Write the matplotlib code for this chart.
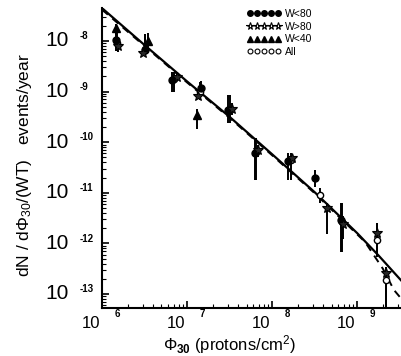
import numpy as np
import matplotlib
matplotlib.use("Agg")
import matplotlib.pyplot as plt
from matplotlib.ticker import LogLocator, NullFormatter
from matplotlib.lines import Line2D

plt.rcParams['font.family'] = ['Liberation Sans', 'DejaVu Sans']
plt.rcParams['mathtext.fontset'] = 'custom'
plt.rcParams['mathtext.rm'] = 'Liberation Sans'
plt.rcParams['mathtext.it'] = 'Liberation Sans:italic'
plt.rcParams['mathtext.bf'] = 'Liberation Sans:bold'

# W<80 (filled circles)
x_w80 = [1.47e6, 3.2e6, 6.7e6, 1.46e7, 3.0e7, 6.2e7, 1.55e8, 3.2e8, 6.5e8]
y_w80 = [1.05e-8, 6.6e-9, 1.7e-9, 1.2e-9, 4.4e-10, 6.2e-11, 4.3e-11, 2.0e-11, 2.9e-12]
lo_w80 = [6.2e-9, 5.3e-9, 1.0e-9, 8.0e-10, 2.4e-10, 1.8e-11, 1.8e-11, 1.3e-11, 6.7e-13]
hi_w80 = [1.6e-8, 1.4e-8, 2.4e-9, 1.6e-9, 8.5e-10, 1.2e-10, 6.2e-11, 2.8e-11, 6.3e-12]

# W>80 (stars)
x_g80 = [1.55e6, 3.0e6, 7.6e6, 1.35e7, 3.4e7, 6.9e7, 1.7e8, 4.35e8, 6.8e8, 1.7e9, 2.2e9]
y_g80 = [8.0e-9, 5.8e-9, 1.9e-9, 8.3e-10, 4.6e-10, 7.0e-11, 4.8e-11, 4.9e-12, 2.4e-12, 1.6e-12, 2.6e-13]
lo_g80 = [6.0e-9, 5.0e-9, 1.6e-9, 7.0e-10, 3.5e-10, 5.0e-11, 4.0e-11, 1.5e-12, 1.2e-12, 5.4e-13, 5.3e-14]
hi_g80 = [1.1e-8, 7.0e-9, 2.3e-9, 1.0e-9, 6.0e-10, 9.0e-11, 5.6e-11, 6.3e-12, 3.5e-12, 2.5e-12, 3.4e-13]

# W<40 (triangles)
x_w40 = [1.45e6, 3.5e6, 1.3e7]
y_w40 = [1.8e-8, 1.0e-8, 3.5e-10]
lo_w40 = [1.3e-8, 7.0e-9, 1.8e-10]
hi_w40 = [2.2e-8, 1.45e-8, 4.5e-10]

# All (open circles)
x_all = [1.5e6, 3.2e6, 7.0e6, 1.4e7, 3.2e7, 6.5e7, 1.65e8, 3.65e8, 6.6e8, 1.7e9, 2.2e9]
y_all = [9.0e-9, 7.0e-9, 1.8e-9, 1.0e-9, 4.4e-10, 6.5e-11, 4.5e-11, 9.1e-12, 2.7e-12, 1.15e-12, 1.85e-13]
lo_all = [6.2e-9, 5.3e-9, 1.0e-9, 6.8e-10, 2.4e-10, 1.8e-11, 1.8e-11, 6.3e-12, 6.7e-13, 5.4e-13, 5.3e-14]
hi_all = [1.6e-8, 1.4e-8, 2.4e-9, 1.57e-9, 8.5e-10, 1.2e-10, 6.2e-11, 1.25e-11, 6.3e-12, 2.5e-12, 3.4e-13]

# fitted curves (log10 values)
fit_lx = [6.0, 6.5, 7.0, 7.5, 8.0, 8.5, 9.0, 9.25, 9.53]
fit_ly = [-7.35, -8.08, -8.80, -9.50, -10.24, -10.99, -11.80, -12.24, -12.76]
dash_lx = [6.0, 6.5, 7.0, 7.5, 8.0, 8.5, 8.8, 9.09, 9.3, 9.43, 9.53]
dash_ly = [-7.38, -8.10, -8.82, -9.52, -10.26, -11.01, -11.50, -11.97, -12.50, -12.92, -13.12]

xticks = [1e6, 1e7, 1e8, 1e9]
xexp = ['6', '7', '8', '9']
yticks = [1e-8, 1e-9, 1e-10, 1e-11, 1e-12, 1e-13]
yexp = ['-8', '-9', '-10', '-11', '-12', '-13']

fig = plt.figure(figsize=(4.02, 3.56), dpi=100)
ax = fig.add_axes([102/402, 48/356, 300/402, 300/356])
ax.set_xscale('log')
ax.set_yscale('log')

ax.plot(10**np.array(fit_lx), 10**np.array(fit_ly), '-', color='black', lw=1.6, zorder=2)
ax.plot(10**np.array(dash_lx), 10**np.array(dash_ly), '--', color='black', lw=1.4,
        dashes=(4, 3), zorder=2)

def errs(y, lo, hi):
    y = np.array(y); lo = np.array(lo); hi = np.array(hi)
    return [y - lo, hi - y]

ekw = dict(ecolor='black', elinewidth=1.4, capsize=0, ls='none', zorder=3)
ax.errorbar(x_all, y_all, yerr=errs(y_all, lo_all, hi_all), fmt='o', ms=4.5,
            mfc='white', mec='black', mew=1.0, **ekw)
ax.errorbar(x_w80, y_w80, yerr=errs(y_w80, lo_w80, hi_w80), fmt='o', ms=5,
            mfc='black', mec='black', **ekw)
ax.errorbar(x_w40, y_w40, yerr=errs(y_w40, lo_w40, hi_w40), fmt='^', ms=5.5,
            mfc='black', mec='black', **ekw)
ax.errorbar(x_g80, y_g80, yerr=errs(y_g80, lo_g80, hi_g80), fmt='*', ms=7.5,
            mfc='0.15', mec='black', mew=0.8, **ekw)

ax.set_xlim(1e6, 3.35e9)
ax.set_ylim(10**-13.277, 10**-7.348)

for s in ['top', 'right']:
    ax.spines[s].set_visible(False)
for s in ['left', 'bottom']:
    ax.spines[s].set_linewidth(1.5)

ax.xaxis.set_major_locator(LogLocator(base=10, numticks=20))
ax.xaxis.set_minor_locator(LogLocator(base=10, subs=np.arange(2, 10), numticks=100))
ax.yaxis.set_major_locator(LogLocator(base=10, numticks=20))
ax.yaxis.set_minor_locator(LogLocator(base=10, subs=np.arange(2, 10), numticks=100))
ax.xaxis.set_major_formatter(NullFormatter())
ax.xaxis.set_minor_formatter(NullFormatter())
ax.yaxis.set_major_formatter(NullFormatter())
ax.yaxis.set_minor_formatter(NullFormatter())
ax.tick_params(which='major', direction='in', length=5, width=1.2)
ax.tick_params(which='minor', direction='in', length=3, width=0.8)

# tick labels: "10" plus raised exponent
for t, e in zip(xticks, xexp):
    ax.annotate('10', xy=(t, 0), xycoords=('data', 'axes fraction'),
                xytext=(-1.5, -6), textcoords='offset points',
                ha='right', va='top', fontsize=12)
    ax.annotate(e, xy=(t, 0), xycoords=('data', 'axes fraction'),
                xytext=(9, -1), textcoords='offset points',
                ha='left', va='top', fontsize=7, fontweight='bold')
for t, e in zip(yticks, yexp):
    ax.annotate('10', xy=(0, t), xycoords=('axes fraction', 'data'),
                xytext=(-24, 0), textcoords='offset points',
                ha='right', va='center', fontsize=15)
    ax.annotate(e, xy=(0, t), xycoords=('axes fraction', 'data'),
                xytext=(-16, 3.5), textcoords='offset points',
                ha='left', va='center', fontsize=7, fontweight='bold')

fig.text(229/402, 1 - 345/356, r'$\Phi_{\mathbf{30}}$ (protons/cm$^{2}$)',
         ha='center', va='center', fontsize=12)
fig.text(25/402, 1 - 165/356, r'dN / d$\Phi_{30}$/(WT)   events/year',
         ha='center', va='center', rotation=90, fontsize=12.5)

handles = [
    Line2D([], [], ls='none', marker='o', ms=4, mfc='black', mec='black'),
    Line2D([], [], ls='none', marker='*', ms=5.5, mfc='white', mec='black', mew=0.8),
    Line2D([], [], ls='none', marker='^', ms=4.5, mfc='black', mec='black'),
    Line2D([], [], ls='none', marker='o', ms=3.5, mfc='white', mec='black', mew=0.8),
]
labels = ['W<80', 'W>80', 'W<40', 'All']
fig.legend(handles, labels, numpoints=5, loc='upper left',
           bbox_to_anchor=(247/402, 1 - 9/356), frameon=False, fontsize=7.5,
           handlelength=3.3, handletextpad=0.3, labelspacing=0.25,
           borderpad=0, borderaxespad=0)

fig.savefig('out.png', dpi=100)
